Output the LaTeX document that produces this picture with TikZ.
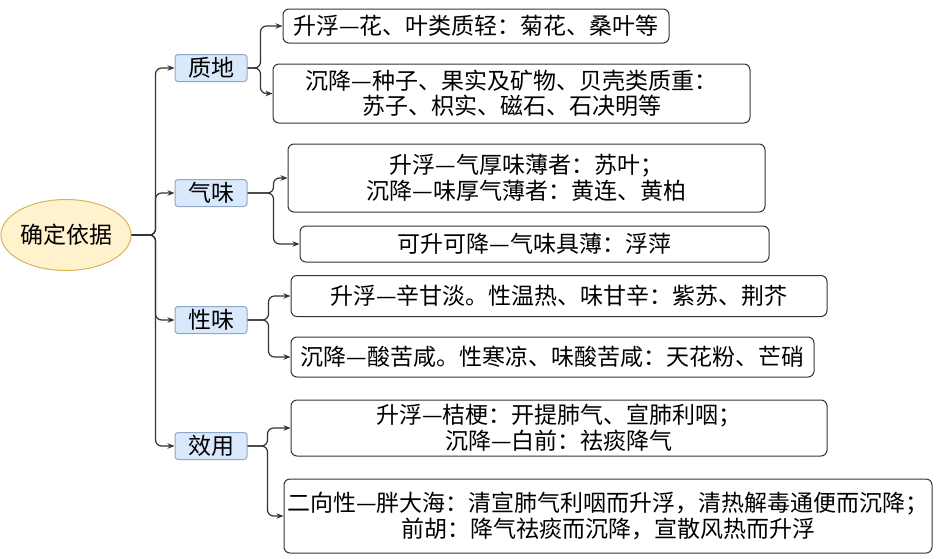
\documentclass[tikz,border=0pt]{standalone}
\usepackage{fontspec}
\setmainfont{Noto Sans CJK SC}
\usetikzlibrary{arrows.meta,shapes.geometric}
\definecolor{rootfill}{HTML}{FFF2CC}
\definecolor{rootline}{HTML}{D6B656}
\definecolor{catfill}{HTML}{DAE8FC}
\definecolor{catline}{HTML}{8FA7C9}
\definecolor{leafline}{HTML}{333333}
\definecolor{connline}{HTML}{333333}
\tikzset{
  tipa/.tip={Stealth[length=7pt,width=5.5pt]},
  rootnode/.style={ellipse,draw=rootline,fill=rootfill,line width=1pt,inner sep=0pt},
  catnode/.style={draw=catline,fill=catfill,line width=1pt,rounded corners=3pt,
    minimum width=72pt,minimum height=27pt,inner sep=0pt},
  leafnode/.style={draw=leafline,line width=1pt,rounded corners=6pt,align=center,inner sep=0.5pt},
  conn/.style={draw=connline,line width=1.2pt,rounded corners=6pt,-tipa}
}

\begin{document}
\begin{tikzpicture}[x=1pt,y=-1pt,font=\fontsize{23}{25.5}\selectfont]
    \useasboundingbox (0,0) rectangle (940,558);
    % root and categories
    \node[rootnode,minimum width=125pt,minimum height=71pt] (root) at (66,235) {确定依据};
    \node[catnode] (zhidi) at (211,68) {质地};
    \node[catnode] (qiwei) at (211,193) {气味};
    \node[catnode] (xingwei) at (211,320) {性味};
    \node[catnode] (xiaoyong) at (211,446) {效用};
    % leaves
    \node[leafnode,minimum width=386pt,minimum height=34pt] (zd1) at (476,26) {升浮—花、叶类质轻：菊花、桑叶等};
    \node[leafnode,minimum width=477pt,minimum height=59pt] (zd2) at (511.5,93.5) {沉降—种子、果实及矿物、贝壳类质重：\\苏子、枳实、磁石、石决明等};
    \node[leafnode,minimum width=477pt,minimum height=68pt] (qw1) at (526.5,178) {升浮—气厚味薄者：苏叶；\\沉降—味厚气薄者：黄连、黄柏};
    \node[leafnode,minimum width=469pt,minimum height=36pt] (qw2) at (534.5,244) {可升可降—气味具薄：浮萍};
    \node[leafnode,minimum width=536pt,minimum height=41pt] (xw1) at (559,296) {升浮—辛甘淡。性温热、味甘辛：紫苏、荆芥};
    \node[leafnode,minimum width=523pt,minimum height=40pt] (xw2) at (552.5,357) {沉降—酸苦咸。性寒凉、味酸苦咸：天花粉、芒硝};
    \node[leafnode,minimum width=536pt,minimum height=56pt] (xy1) at (559,428) {升浮—桔梗：开提肺气、宣肺利咽；\\沉降—白前：祛痰降气};
    \node[leafnode,minimum width=648pt,minimum height=74pt] (xy2) at (608,516) {二向性—胖大海：清宣肺气利咽而升浮，清热解毒通便而沉降；\\前胡：降气祛痰而沉降，宣散风热而升浮};
    % connectors
    \foreach \c in {zhidi,qiwei,xingwei,xiaoyong}
        \draw[conn] (root.east) -- ++(24,0) |- (\c.west);
    \foreach \a/\b/\d in {zhidi/zd1/13,zhidi/zd2/13,qiwei/qw1/26,qiwei/qw2/26,
        xingwei/xw1/21,xingwei/xw2/21,xiaoyong/xy1/20,xiaoyong/xy2/20}
        \draw[conn] (\a.east) -- ++(\d,0) |- (\b.west);
\end{tikzpicture}
\end{document}
